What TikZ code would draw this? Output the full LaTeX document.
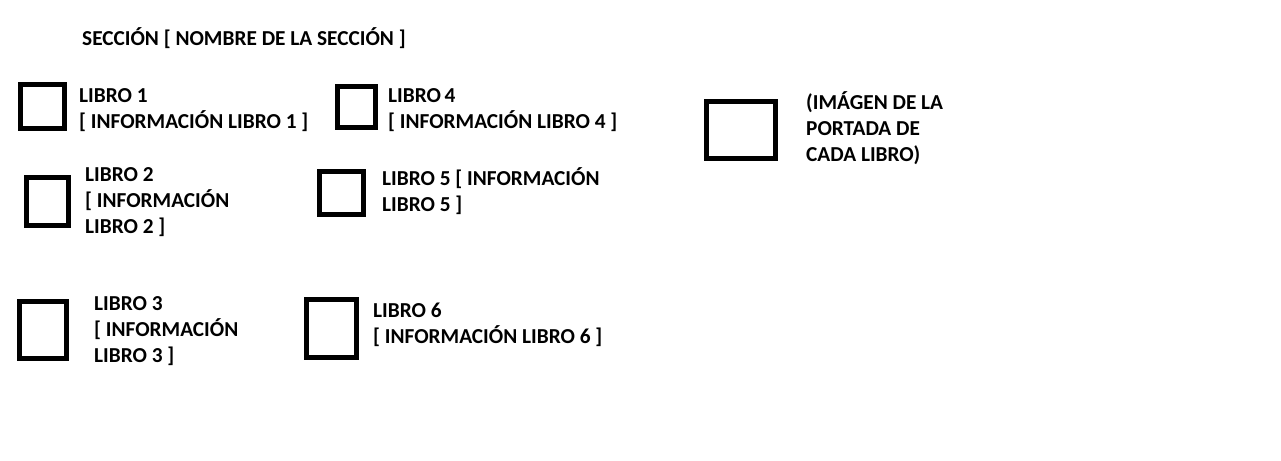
\documentclass[tikz,border=0pt]{standalone}
\usepackage{fontspec}
\setmainfont{Carlito}
\usepackage{tikz}

\begin{document}
\begin{tikzpicture}[x=1pt,y=-1pt]
		\tikzset{cover/.style = {shape=rectangle, draw, line width=5pt, inner sep=0pt}}
		\tikzset{info/.style = {anchor=base west, align=left, inner sep=0pt, font=\fontsize{21.3}{26}\selectfont\bfseries}}

		\useasboundingbox (0,0) rectangle (1281,460);

		\node[info] (S) at (82,45.5) {SECCIÓN [ NOMBRE DE LA SECCIÓN ]};

		\node[cover, minimum width=44pt, minimum height=44pt] (L_1) at (42.5,106.5) {};
		\node[cover, minimum width=42pt, minimum height=48pt] (L_2) at (47.5,201.5) {};
		\node[cover, minimum width=47pt, minimum height=57pt] (L_3) at (42.5,330) {};
		\node[cover, minimum width=38pt, minimum height=41pt] (L_4) at (356.5,106.5) {};
		\node[cover, minimum width=44pt, minimum height=43pt] (L_5) at (341.5,193) {};
		\node[cover, minimum width=50pt, minimum height=58pt] (L_6) at (331,328.5) {};
		\node[cover, minimum width=69pt, minimum height=57pt] (P) at (740.5,129.5) {};

		\node[info] (T_1) at (79,128) {LIBRO 1\\{[} INFORMACIÓN LIBRO 1 ]};
		\node[info] (T_2) at (85,233) {LIBRO 2\\{[} INFORMACIÓN\\LIBRO 2 ]};
		\node[info] (T_3) at (94,362) {LIBRO 3\\{[} INFORMACIÓN\\LIBRO 3 ]};
		\node[info] (T_4) at (388,128) {LIBRO\,4\\{[} INFORMACIÓN LIBRO 4 ]};
		\node[info] (T_5) at (382,211) {LIBRO 5 [ INFORMACIÓN\\LIBRO 5 ]};
		\node[info] (T_6) at (373,343) {LIBRO 6\\{[} INFORMACIÓN LIBRO 6 ]};
		\node[info] (T_P) at (806,161) {(IMÁGEN DE LA\\PORTADA DE\\CADA LIBRO)};

	\end{tikzpicture}
\end{document}
